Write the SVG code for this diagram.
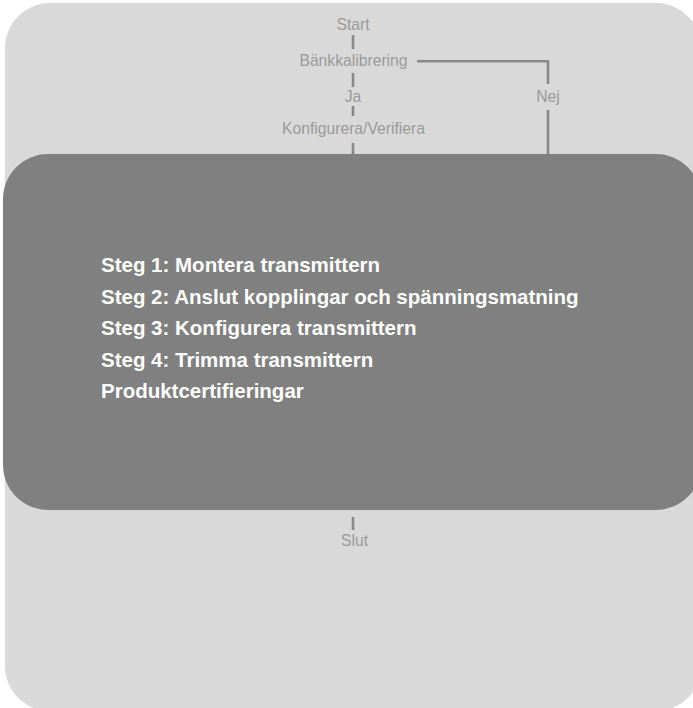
<svg xmlns="http://www.w3.org/2000/svg" width="693" height="708" viewBox="0 0 693 708">
<style>
.lbl{font-family:"Liberation Sans",Arial,sans-serif;font-size:15.7px;fill:#9a9a9a;text-anchor:middle}
.step{font-family:"Liberation Sans",Arial,sans-serif;font-size:20.5px;font-weight:bold;fill:#ffffff}
.ln{stroke:#888888;stroke-width:2.6;fill:none}
</style>
<rect x="0" y="0" width="693" height="708" fill="#ffffff"/>
<g id="background"><rect x="5" y="3" width="696" height="708" rx="45" ry="45" fill="#d9d9d9"/></g>
<g id="connectors">
<line class="ln" x1="353" y1="35" x2="353" y2="49"/>
<line class="ln" x1="353" y1="73" x2="353" y2="87"/>
<line class="ln" x1="353" y1="106" x2="353" y2="116"/>
<line class="ln" x1="353" y1="143" x2="353" y2="156"/>
<polyline class="ln" points="417,61.3 548,61.3 548,84"/>
<line class="ln" x1="548" y1="110" x2="548" y2="156"/>
<line class="ln" x1="353" y1="517" x2="353" y2="530"/>
</g>
<g id="start"><text class="lbl" x="353" y="30">Start</text></g>
<g id="bankkalibrering"><text class="lbl" x="353.5" y="66">Bänkkalibrering</text></g>
<g id="ja"><text class="lbl" x="353" y="102">Ja</text></g>
<g id="nej"><text class="lbl" x="548" y="102">Nej</text></g>
<g id="konfigurera"><text class="lbl" x="353.5" y="134">Konfigurera/Verifiera</text></g>
<g id="steps">
<rect x="3" y="154" width="698" height="356" rx="45" ry="45" fill="#808080"/>
<text class="step" x="101" y="272">Steg 1: Montera transmittern</text>
<text class="step" x="101" y="303.5">Steg 2: Anslut kopplingar och spänningsmatning</text>
<text class="step" x="101" y="335">Steg 3: Konfigurera transmittern</text>
<text class="step" x="101" y="366.7">Steg 4: Trimma transmittern</text>
<text class="step" x="101" y="398.3">Produktcertifieringar</text>
</g>
<g id="slut"><text class="lbl" x="354.5" y="546">Slut</text></g>
</svg>
